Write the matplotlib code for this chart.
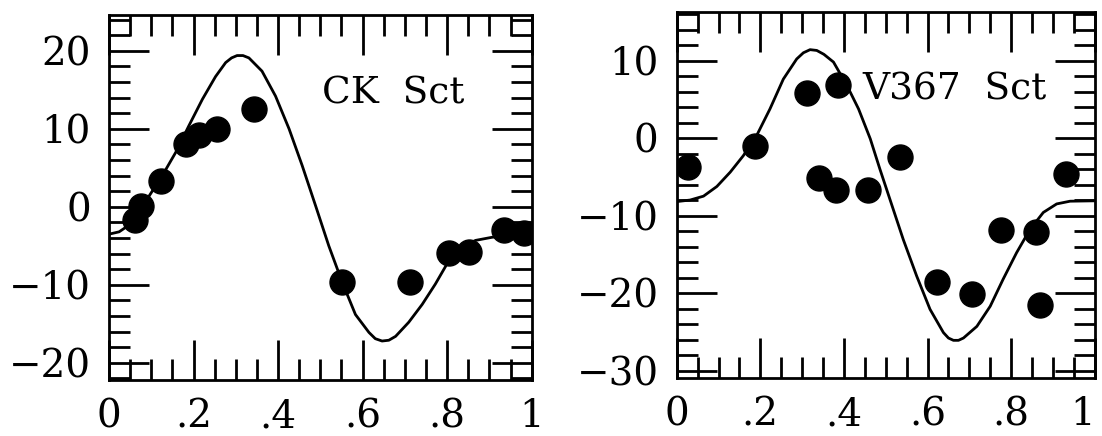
import numpy as np
import matplotlib.pyplot as plt
from matplotlib.ticker import MultipleLocator

# radial velocity curves, phase vs velocity (km/s)
ck_phase = [0.061, 0.075, 0.122, 0.183, 0.213, 0.256, 0.344, 0.552, 0.713, 0.804, 0.851, 0.934, 0.981]
ck_vel = [-1.7, 0.1, 3.3, 8.0, 9.2, 10.0, 12.6, -9.6, -9.6, -5.9, -5.8, -3.0, -3.3]

ck_fit_phase = [0.0, 0.024, 0.047, 0.071, 0.095, 0.126, 0.158, 0.189, 0.221, 0.252, 0.276, 0.290,
                0.303, 0.317, 0.331, 0.362, 0.394, 0.426, 0.457, 0.489, 0.520, 0.552, 0.583,
                0.615, 0.630, 0.646, 0.662, 0.678, 0.709, 0.741, 0.772, 0.804, 0.835, 0.867,
                0.906, 0.946, 1.0]
ck_fit_vel = [-3.5, -3.2, -2.35, -0.75, 1.4, 4.0, 7.0, 10.4, 13.8, 16.7, 18.5, 19.1,
              19.4, 19.4, 19.1, 17.4, 14.2, 10.0, 5.3, 0.1, -5.0, -9.7, -13.8,
              -16.1, -16.9, -17.2, -17.1, -16.6, -14.8, -12.5, -9.9, -6.9, -5.2, -4.3,
              -3.9, -3.7, -3.5]

v367_phase = [0.026, 0.187, 0.311, 0.385, 0.341, 0.380, 0.457, 0.533, 0.622, 0.706, 0.775, 0.860, 0.869, 0.931]
v367_vel = [-3.7, -1.0, 5.8, 6.9, -5.2, -6.7, -6.7, -2.4, -18.6, -20.1, -11.9, -12.1, -21.6, -4.7]

v367_fit_phase = [0.0, 0.032, 0.064, 0.096, 0.128, 0.159, 0.191, 0.223, 0.255, 0.287, 0.303, 0.319,
                  0.335, 0.352, 0.375, 0.407, 0.435, 0.463, 0.486, 0.510, 0.542, 0.574, 0.606,
                  0.638, 0.650, 0.662, 0.674, 0.686, 0.718, 0.750, 0.781, 0.813, 0.845, 0.877,
                  0.909, 0.941, 1.0]
v367_fit_vel = [-8.2, -8.0, -7.5, -6.25, -4.4, -2.3, 0.3, 3.75, 7.6, 10.2, 11.0, 11.4,
                11.3, 10.8, 9.8, 6.8, 3.75, -0.1, -4.0, -7.9, -13.1, -17.8, -22.1,
                -25.1, -25.8, -26.1, -26.1, -25.8, -24.3, -21.7, -18.2, -14.8, -11.8, -9.6,
                -8.5, -8.15, -8.1]

xticks = [0, 0.2, 0.4, 0.6, 0.8, 1.0]
xticklabels = ['0', '.2', '.4', '.6', '.8', '1']

plt.rcParams['font.family'] = 'DejaVu Serif'

fig = plt.figure(figsize=(11.02, 4.36), dpi=100)
ax1 = fig.add_axes([0.0989, 0.1284, 0.3836, 0.8372])
ax2 = fig.add_axes([0.6141, 0.1323, 0.3793, 0.8409])

panels = [
    (ax1, ck_phase, ck_vel, ck_fit_phase, ck_fit_vel, (-22.2, 24.6), 'CK  Sct', (0.504, 13.3)),
    (ax2, v367_phase, v367_vel, v367_fit_phase, v367_fit_vel, (-31.0, 16.3), 'V367  Sct', (0.443, 5.0)),
]

for ax, ph, v, fph, fv, ylim, name, pos in panels:
    ax.plot(fph, fv, color='k', lw=2)
    ax.plot(ph, v, linestyle='none', marker='o', color='k', markersize=18)
    ax.set_xlim(0, 1)
    ax.set_ylim(*ylim)
    ax.set_xticks(xticks)
    ax.set_xticklabels(xticklabels)
    ax.xaxis.set_minor_locator(MultipleLocator(0.05))
    ax.yaxis.set_major_locator(MultipleLocator(10))
    ax.yaxis.set_minor_locator(MultipleLocator(2))
    ax.tick_params(which='both', direction='in', top=True, right=True, width=2, labelsize=28)
    ax.tick_params(which='major', length=29)
    ax.tick_params(which='minor', length=15)
    ax.tick_params(axis='x', which='major', pad=13)
    ax.tick_params(axis='y', which='major', pad=13)
    for s in ax.spines.values():
        s.set_linewidth(2)
    ax.text(pos[0], pos[1], name, fontsize=27)

# keep the last phase label of the right panel inside the figure
ax2.get_xticklabels()[-1].set_horizontalalignment('right')

fig.savefig('out.png', dpi=100)
